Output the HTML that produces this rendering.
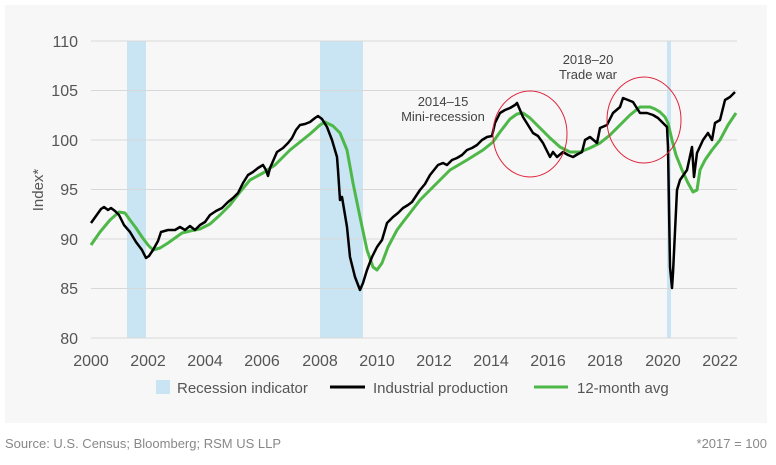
<!DOCTYPE html>
<html><head><meta charset="utf-8"><style>
body{margin:0;background:#fff;width:776px;height:460px;overflow:hidden;font-family:"Liberation Sans",sans-serif;}
</style></head><body>
<svg width="776" height="460" xmlns="http://www.w3.org/2000/svg" font-family="Liberation Sans, sans-serif">
<rect x="5" y="5" width="762" height="418" fill="#f7f7f7"/>
<g fill="#c9e4f2">
<rect x="127" y="41" width="19" height="297"/>
<rect x="320" y="41" width="43" height="297"/>
<rect x="667" y="41" width="4" height="297"/>
</g>
<g stroke="#d8d8d8" stroke-width="1">
<line x1="91" x2="737" y1="41" y2="41"/><line x1="91" x2="737" y1="90.5" y2="90.5"/>
<line x1="91" x2="737" y1="140" y2="140"/><line x1="91" x2="737" y1="189.5" y2="189.5"/>
<line x1="91" x2="737" y1="239" y2="239"/><line x1="91" x2="737" y1="288.5" y2="288.5"/>
<line x1="91" x2="737" y1="338" y2="338"/>
</g>
<g fill="#555" font-size="16" text-anchor="end">
<text x="78" y="47">110</text><text x="78" y="96">105</text><text x="78" y="146">100</text>
<text x="78" y="195">95</text><text x="78" y="245">90</text><text x="78" y="294">85</text><text x="78" y="344">80</text>
</g>
<g fill="#555" font-size="16" text-anchor="middle">
<text x="91" y="366">2000</text><text x="148" y="366">2002</text><text x="205" y="366">2004</text>
<text x="262" y="366">2006</text><text x="320" y="366">2008</text><text x="377" y="366">2010</text>
<text x="434" y="366">2012</text><text x="491" y="366">2014</text><text x="548" y="366">2016</text>
<text x="605" y="366">2018</text><text x="663" y="366">2020</text><text x="720" y="366">2022</text>
</g>
<text transform="translate(43,190) rotate(-90)" fill="#555" font-size="15" text-anchor="middle">Index*</text>
<polyline fill="none" stroke="#4db848" stroke-width="3" stroke-linejoin="round" points="91,245 100,232 110,220 119,212 125,213 130,220 136,228 142,237 148,245 153,250 160,248 168,243 175,238 182,233 190,231 200,229 210,224 220,215 230,205 240,192 250,180 263,173 275,165 290,150 300,142 310,134 320,125 325,122 333,126 340,133 347,150 353,183 360,217 367,250 373,267 377,270 382,263 388,247 397,230 403,222 410,213 420,200 433,187 450,170 467,160 483,150 493,142 500,132 510,119 517,114 523,113 530,118 540,128 550,138 560,147 570,152 580,152 590,148 600,143 610,135 620,125 630,115 640,107 650,107 655,109 660,112 665,117 668,123 672,140 676,155 682,170 688,183 693,192 697,190 700,170 705,160 712,150 720,140 728,125 736,113"/>
<polyline fill="none" stroke="#000" stroke-width="2.5" stroke-linejoin="round" points="91,223 96,216 101,209 104,207 108,210 111,208 115,211 119,215 124,225 130,232 136,242 142,250 146,258 149,256 153,250 158,241 161,232 168,230 175,230 180,227 185,230 190,226 195,230 200,225 205,222 210,215 216,211 222,208 228,202 233,198 238,193 243,183 248,175 253,172 258,168 263,165 266,170 268,176 270,168 277,152 283,148 288,143 292,138 296,130 300,125 305,124 310,122 315,118 318,116 322,119 327,127 332,140 337,157 338,170 340,200 342,197 347,227 350,257 355,277 360,290 363,283 367,270 372,257 377,247 382,240 387,223 393,217 398,213 403,208 408,205 412,202 416,196 420,190 425,184 430,175 434,170 438,165 443,163 447,165 452,160 457,158 462,155 467,150 472,148 477,145 482,140 487,137 492,136 495,123 500,113 505,110 510,108 515,105 517,103 523,117 528,125 533,133 538,136 543,143 550,157 553,152 557,157 563,152 568,155 573,157 578,154 582,152 585,140 590,137 597,143 600,128 607,125 613,113 620,107 623,98 628,100 633,102 640,113 647,113 653,115 658,118 663,123 667,127 668,147 670,267 672,288 673,273 677,190 680,180 687,170 692,147 694,177 697,153 703,140 708,133 712,140 715,123 720,120 725,100 730,97 735,92"/>
<ellipse cx="530" cy="134" rx="37" ry="43" fill="none" stroke="#e0223a" stroke-width="1"/>
<ellipse cx="644" cy="120" rx="37" ry="43" fill="none" stroke="#e0223a" stroke-width="1"/>
<g fill="#444" font-size="13" text-anchor="middle">
<text x="443" y="106">2014–15</text><text x="443" y="121">Mini-recession</text>
<text x="588" y="64">2018–20</text><text x="588" y="79">Trade war</text>
</g>
<rect x="156" y="380" width="14" height="14" fill="#c9e4f2"/>
<text x="177" y="393" fill="#555" font-size="15">Recession indicator</text>
<line x1="330" x2="365" y1="387" y2="387" stroke="#000" stroke-width="3"/>
<text x="373" y="393" fill="#555" font-size="15">Industrial production</text>
<line x1="534" x2="568" y1="387" y2="387" stroke="#4db848" stroke-width="3"/>
<text x="577" y="393" fill="#555" font-size="15">12-month avg</text>
<text x="5" y="448" fill="#888" font-size="13">Source: U.S. Census; Bloomberg; RSM US LLP</text>
<text x="767" y="448" fill="#888" font-size="13" text-anchor="end">*2017 = 100</text>
</svg>
</body></html>
